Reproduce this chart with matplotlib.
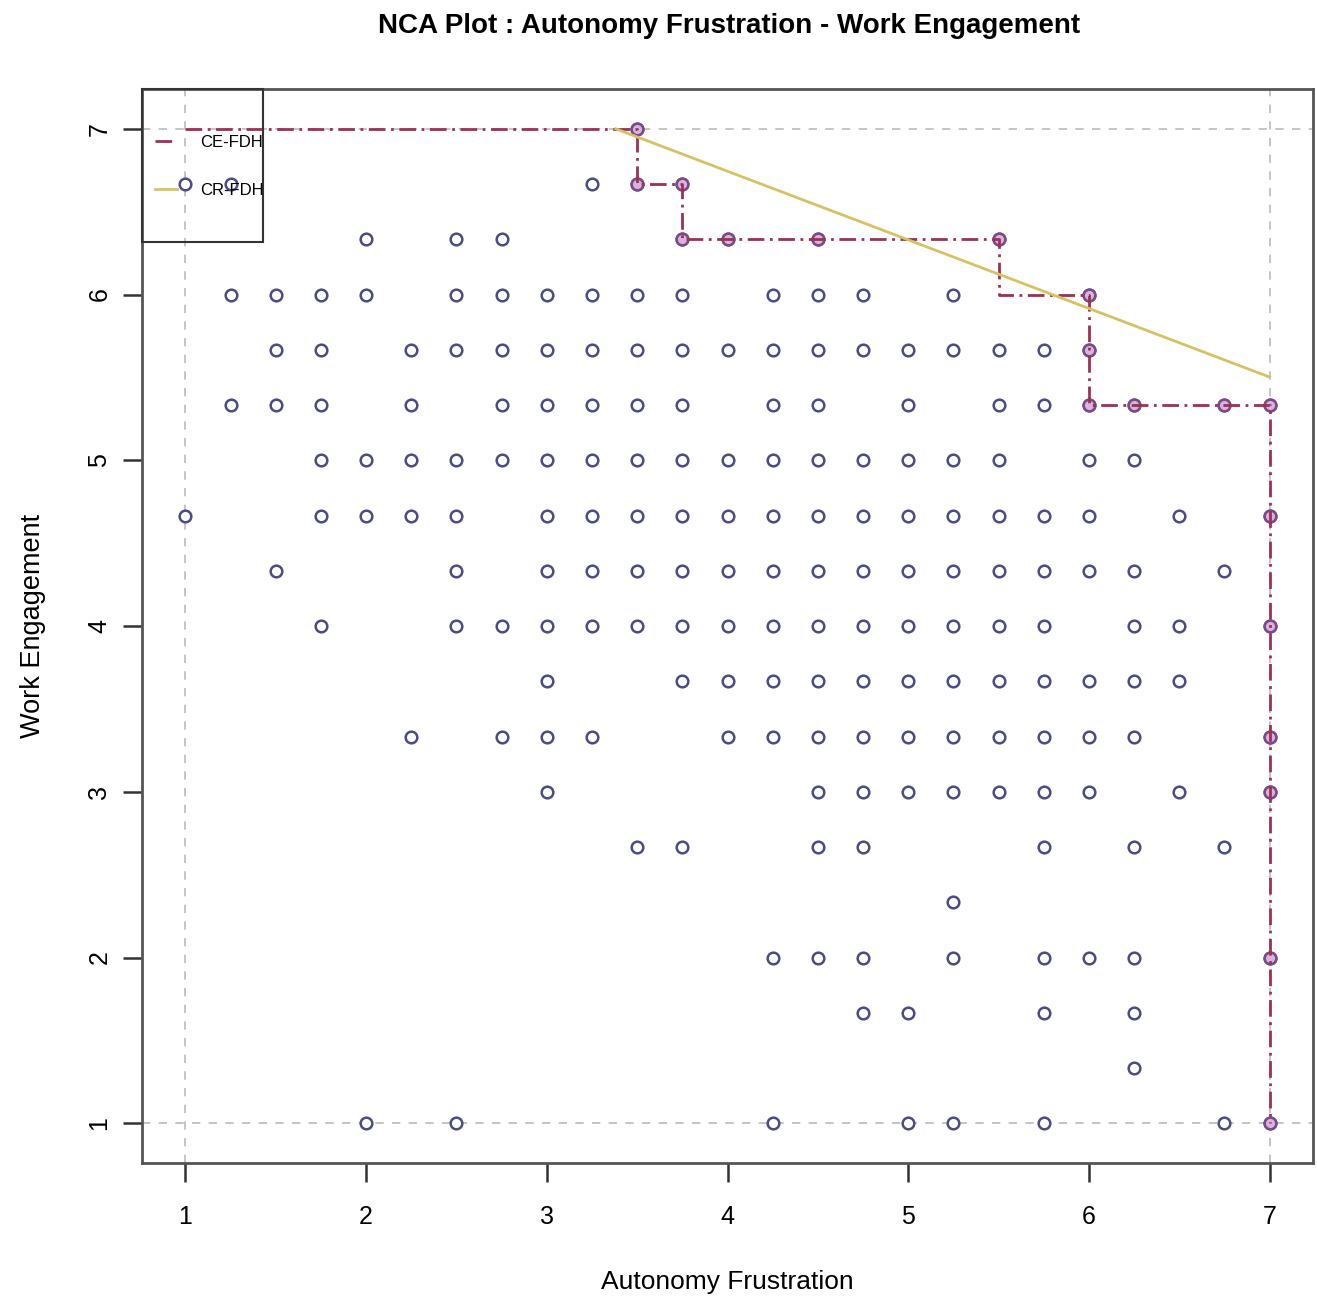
import numpy as np
import matplotlib.pyplot as plt
from matplotlib.patches import Rectangle

plt.rcParams['font.family'] = ['Liberation Sans', 'DejaVu Sans']

# scatter data: one list of x values per y level (y levels in thirds)
y_levels = [7.0, 20/3, 19/3, 6.0, 17/3, 16/3, 5.0, 14/3, 13/3, 4.0,
            11/3, 10/3, 3.0, 8/3, 7/3, 2.0, 5/3, 4/3, 1.0]
x_by_level = [
    [3.5],
    [1.0, 1.25, 3.25, 3.5, 3.75],
    [2.0, 2.5, 2.75, 3.75, 4.0, 4.5, 5.5],
    [1.25, 1.5, 1.75, 2.0, 2.5, 2.75, 3.0, 3.25, 3.5, 3.75, 4.25, 4.5, 4.75, 5.25, 6.0],
    [1.5, 1.75, 2.25, 2.5, 2.75, 3.0, 3.25, 3.5, 3.75, 4.0, 4.25, 4.5, 4.75, 5.0, 5.25,
     5.5, 5.75, 6.0],
    [1.25, 1.5, 1.75, 2.25, 2.75, 3.0, 3.25, 3.5, 3.75, 4.25, 4.5, 5.0, 5.5, 5.75, 6.0,
     6.25, 6.75, 7.0],
    [1.75, 2.0, 2.25, 2.5, 2.75, 3.0, 3.25, 3.5, 3.75, 4.0, 4.25, 4.5, 4.75, 5.0, 5.25,
     5.5, 6.0, 6.25],
    [1.0, 1.75, 2.0, 2.25, 2.5, 3.0, 3.25, 3.5, 3.75, 4.0, 4.25, 4.5, 4.75, 5.0, 5.25,
     5.5, 5.75, 6.0, 6.5, 7.0],
    [1.5, 2.5, 3.0, 3.25, 3.5, 3.75, 4.0, 4.25, 4.5, 4.75, 5.0, 5.25, 5.5, 5.75, 6.0,
     6.25, 6.75],
    [1.75, 2.5, 2.75, 3.0, 3.25, 3.5, 3.75, 4.0, 4.25, 4.5, 4.75, 5.0, 5.25, 5.5, 5.75,
     6.25, 6.5, 7.0],
    [3.0, 3.75, 4.0, 4.25, 4.5, 4.75, 5.0, 5.25, 5.5, 5.75, 6.0, 6.25, 6.5],
    [2.25, 2.75, 3.0, 3.25, 4.0, 4.25, 4.5, 4.75, 5.0, 5.25, 5.5, 5.75, 6.0, 6.25, 7.0],
    [3.0, 4.5, 4.75, 5.0, 5.25, 5.5, 5.75, 6.0, 6.5, 7.0],
    [3.5, 3.75, 4.5, 4.75, 5.75, 6.25, 6.75],
    [5.25],
    [4.25, 4.5, 4.75, 5.25, 5.75, 6.0, 6.25, 7.0],
    [4.75, 5.0, 5.75, 6.25],
    [6.25],
    [2.0, 2.5, 4.25, 5.0, 5.25, 5.75, 6.75, 7.0],
]

# CE-FDH step ceiling (corner points)
ce_x = [1.0, 3.5, 3.5, 3.75, 3.75, 5.5, 5.5, 6.0, 6.0, 7.0, 7.0]
ce_y = [7.0, 7.0, 20/3, 20/3, 19/3, 19/3, 6.0, 6.0, 16/3, 16/3, 1.0]

# peers on the ceiling
peer_x = [3.5, 3.5, 3.75, 3.75, 4.0, 4.5, 5.5, 6.0, 6.0, 6.0, 6.25, 6.75, 7.0,
          7.0, 7.0, 7.0, 7.0, 7.0, 7.0]
peer_y = [7.0, 20/3, 20/3, 19/3, 19/3, 19/3, 19/3, 6.0, 17/3, 16/3, 16/3, 16/3, 16/3,
          14/3, 4.0, 10/3, 3.0, 2.0, 1.0]

# CR-FDH regression ceiling
cr_intercept = 8.40
cr_slope = -0.414

xs = np.concatenate([np.array(v) for v in x_by_level])
ys = np.concatenate([np.full(len(v), yl) for yl, v in zip(y_levels, x_by_level)])

fig = plt.figure(figsize=(13.17, 12.96), dpi=100)
ax = fig.add_axes([0.1078, 0.1026, 0.8892, 0.8287])

# scope box lines
for v in (1, 7):
    ax.axhline(v, color='#bbbbbb', linestyle=(0, (5, 5)), linewidth=1.2, zorder=1)
    ax.axvline(v, color='#bbbbbb', linestyle=(0, (5, 5)), linewidth=1.2, zorder=1)

ax.scatter(xs, ys, s=70, facecolors='white', edgecolors='#4b4b86', linewidths=1.8, zorder=3)
ax.scatter(peer_x, peer_y, s=70, facecolors='#d8b4dc', edgecolors='#7a4a8a', linewidths=1.8,
           zorder=4)

ax.plot(ce_x, ce_y, color='#9e3050', linestyle=(0, (6, 2, 1, 2)), linewidth=2.0, zorder=5,
        label='CE-FDH')

x0 = (7.0 - cr_intercept) / cr_slope
cr_x = np.array([x0, 7.0])
ax.plot(cr_x, cr_intercept + cr_slope * cr_x, color='#d6c264', linewidth=2.0, zorder=5,
        label='CR-FDH')

ax.set_xlim(0.76, 7.24)
ax.set_ylim(0.76, 7.24)
ax.set_xticks([1, 2, 3, 4, 5, 6, 7])
ax.set_yticks([1, 2, 3, 4, 5, 6, 7])
ax.tick_params(direction='out', length=14, width=1.8, color='#333333', labelsize=18)
ax.tick_params(axis='x', pad=16)
ax.tick_params(axis='y', pad=8)
for lab in ax.get_yticklabels():
    lab.set_rotation(90)
    lab.set_va('center')
for sp in ax.spines.values():
    sp.set_linewidth(2)
    sp.set_color('#555555')

ax.set_xlabel('Autonomy Frustration', fontsize=19, labelpad=30)
ax.set_ylabel('Work Engagement', fontsize=19.5, labelpad=30)
fig.suptitle('NCA Plot : Autonomy Frustration - Work Engagement', fontsize=20,
             fontweight='bold', x=0.5535, y=0.99)

# legend box (drawn separately, text runs to its edge like in R)
ax.add_patch(Rectangle((0, 0.8575), 0.1033, 0.1425, transform=ax.transAxes, fill=False,
                       edgecolor='#333333', linewidth=1.5, zorder=6, clip_on=False))
ax.legend(loc='upper left', bbox_to_anchor=(0.004, 0.965), borderaxespad=0, fontsize=12,
          frameon=False, handlelength=1.3, handletextpad=1.4, labelspacing=2.0,
          borderpad=0.5)

fig.savefig('out.png', dpi=100)
